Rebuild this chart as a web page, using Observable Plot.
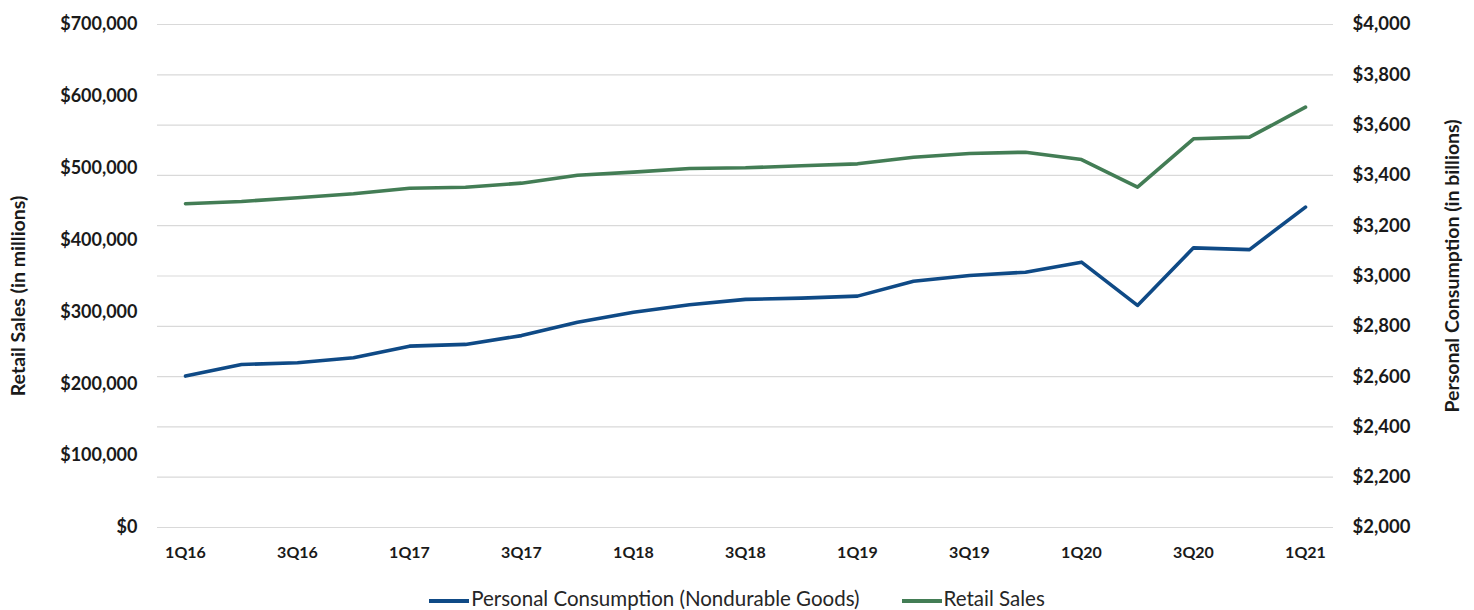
<!DOCTYPE html>
<html>
<head>
<meta charset="utf-8">
<script src="https://cdn.jsdelivr.net/npm/d3@7"></script>
<script src="https://cdn.jsdelivr.net/npm/@observablehq/plot@0.6"></script>
<style>
  html, body { margin: 0; padding: 0; background: #fff; }
  #chart { width: 1474px; }
  .legend { width: 1474px; text-align: center; white-space: nowrap;
            font-family: Lato, "Open Sans", sans-serif; font-size: 20.5px; color: #262626;
            margin-top: 15px; }
  .legend span.item { display: inline-block; vertical-align: middle; }
  .legend span.item + span.item { margin-left: 42px; }
  .legend span.sw { display: inline-block; width: 40px; height: 4px; margin-right: 2px; vertical-align: middle; }
</style>
</head>
<body>
<div id="chart"></div>
<script>
const quarters = ["1Q16","2Q16","3Q16","4Q16","1Q17","2Q17","3Q17","4Q17","1Q18","2Q18","3Q18","4Q18",
                  "1Q19","2Q19","3Q19","4Q19","1Q20","2Q20","3Q20","4Q20","1Q21"];
const retailSales = [450500, 453700, 458800, 464400, 472200, 473600, 479200, 490300, 494500, 499600, 500600,
                     503400, 506100, 515300, 520500, 522300, 512100, 473600, 540900, 543200, 584900];
const personalConsumption = [2602, 2648, 2655, 2675, 2721, 2728, 2763, 2816, 2856, 2886, 2907, 2912,
                             2920, 2979, 3002, 3015, 3055, 2883, 3112, 3105, 3274];
const xTickLabels = ["1Q16","3Q16","1Q17","3Q17","1Q18","3Q18","1Q19","3Q19","1Q20","3Q20","1Q21"];
const leftTicks = [0, 100000, 200000, 300000, 400000, 500000, 600000, 700000];
const rightTicks = [2000, 2200, 2400, 2600, 2800, 3000, 3200, 3400, 3600, 3800, 4000];
const leftTitle = "Retail Sales (in millions)";
const rightTitle = "Personal Consumption (in billions)";
const seriesNames = ["Personal Consumption (Nondurable Goods)", "Retail Sales"];
const colors = ["#0f4a86", "#437d55"];

const toLeft = v => (v - 2000) / 2000 * 700000;
const fromLeft = v => v / 700000 * 2000 + 2000;
const money = d3.format(",");

const data = quarters.map((q, i) => ({q, retail: retailSales[i], pc: personalConsumption[i]}));

const chart = Plot.plot({
  width: 1474,
  height: 568,
  marginLeft: 157,
  marginRight: 141,
  marginTop: 24,
  marginBottom: 41,
  style: {fontFamily: "Lato, 'Open Sans', sans-serif", fontSize: "18px", fontWeight: "bold", color: "#1a1a1a", background: "#fff"},
  x: {type: "point", domain: quarters, padding: 0.5},
  y: {domain: [0, 700000]},
  marks: [
    Plot.ruleY(rightTicks.map(toLeft), {stroke: "#d9d9d9", strokeWidth: 1.2}),
    Plot.axisX(xTickLabels, {tickSize: 0, tickPadding: 19, label: null, fontSize: 16}),
    Plot.axisY(leftTicks, {anchor: "left", tickSize: 0, tickPadding: 20, label: null, fontSize: 18,
      tickFormat: d => "$" + money(d)}),
    Plot.axisY(rightTicks.map(toLeft), {anchor: "right", tickSize: 0, tickPadding: 19, label: null, fontSize: 18.5,
      tickFormat: d => "$" + money(Math.round(fromLeft(d)))}),
    Plot.text([leftTitle], {frameAnchor: "left", textAnchor: "middle", rotate: -90, dx: -139, dy: 20, fontSize: 19.5, fontWeight: "bold"}),
    Plot.text([rightTitle], {frameAnchor: "right", textAnchor: "middle", rotate: -90, dx: 119, dy: -10, fontSize: 19.5, fontWeight: "bold"}),
    Plot.line(data, {x: "q", y: "retail", stroke: colors[1], strokeWidth: 3.6, strokeLinejoin: "round", strokeLinecap: "round"}),
    Plot.line(data, {x: "q", y: d => toLeft(d.pc), stroke: colors[0], strokeWidth: 3.6, strokeLinejoin: "round", strokeLinecap: "round"})
  ]
});
document.getElementById("chart").appendChild(chart);

const legend = document.createElement("div");
legend.className = "legend";
seriesNames.forEach((name, i) => {
  const item = document.createElement("span");
  item.className = "item";
  const sw = document.createElement("span");
  sw.className = "sw";
  sw.style.background = colors[i];
  item.appendChild(sw);
  item.appendChild(document.createTextNode(name));
  legend.appendChild(item);
});
document.getElementById("chart").appendChild(legend);
</script>
</body>
</html>
